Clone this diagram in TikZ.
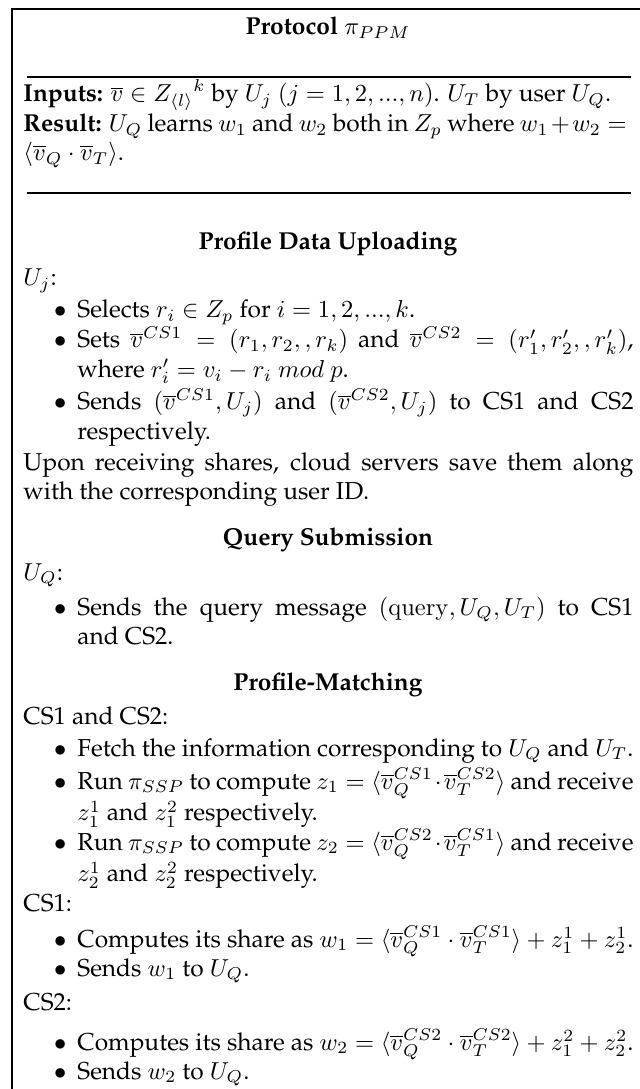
\documentclass[tikz,border=0pt]{standalone}
\usepackage[T1]{fontenc}
\renewcommand{\rmdefault}{ppl}

% a bulleted paragraph: bullet hangs in the left margin, later lines indented
\newcommand{\bitem}[1]{%
  \hangindent=22pt\hangafter=1\noindent
  \makebox[22pt][r]{$\bullet$\hspace{4.5pt}}#1\par}

\tikzset{
  body/.style={anchor=base west, inner sep=0pt, text width=249pt, align=justify,
    font=\fontsize{10}{12}\selectfont},
  heading/.style={anchor=base, inner sep=0pt, font=\fontsize{10}{12}\selectfont\bfseries},
  frame/.style={line width=0.5pt},
  bar/.style={line width=1pt}
}

\begin{document}
\begin{tikzpicture}[x=0.40816pt, y=-0.40816pt]
  \useasboundingbox (0,0) rectangle (639,1089);

  % outer frame (left and top edges)
  \coordinate (fb) at (12,1095);
  \coordinate (ft) at (12,9);
  \coordinate (fr) at (645,9);
  \draw[frame] (fb) -- (ft) -- (fr);

  % title
  \node[heading] (title) at (328,35) {Protocol \mdseries$\pi_{PPM}$};

  \coordinate (r1a) at (27,77);
  \coordinate (r1b) at (631,77);
  \draw[bar] (r1a) -- (r1b);

  % inputs and result
  \node[body] (inputs) at (23,102) {%
    \textbf{Inputs:} $\overline{v}\in {Z_{\langle l\rangle}}^k$ by $U_j$ $(j=1,2,...,n)$. $U_T$ by user $U_Q$.\\
    \textbf{Result:} $U_Q$ learns $w_1$ and $w_2$ both in $Z_p$ where $w_1+w_2={}$\linebreak
    $\langle\overline{v}_Q\cdot\overline{v}_T\rangle$.};

  \coordinate (r2a) at (27,193);
  \coordinate (r2b) at (631,193);
  \draw[bar] (r2a) -- (r2b);

  % profile data uploading
  \node[heading] (h1) at (328,250) {Profile Data Uploading};
  \node[body] (uj) at (23,286) {$U_j$:};
  \node[body] (sel) at (23,318) {\bitem{Selects $r_i\in Z_p$ for $i=1,2,...,k$.}};
  \node[body] (sets) at (23,348) {\bitem{Sets $\overline{v}^{CS1}=(r_1,r_2,,r_k)$ and $\overline{v}^{CS2}=(r'_1,r'_2,,r'_k)$,\linebreak
        where $r'_i=v_i-r_i~mod~p$.}};
  \node[body] (snd) at (23,410) {\bitem{Sends $(\overline{v}^{CS1},U_j)$ and $(\overline{v}^{CS2},U_j)$ to CS1 and CS2\linebreak
        respectively.}};
  \node[body] (upon) at (23,470) {Upon receiving shares, cloud servers save them along\linebreak
    with the corresponding user ID.};

  % query submission
  \node[heading] (h2) at (328,545) {Query Submission};
  \node[body] (uq) at (23,580) {$U_Q$:};
  \node[body] (qry) at (23,615) {\bitem{Sends the query message $(\mathrm{query},U_Q,U_T)$ to CS1\linebreak
        and CS2.}};

  % profile matching
  \node[heading] (h3) at (328,690) {Profile-Matching};
  \node[body] (both) at (23,724) {CS1 and CS2:};
  \node[body] (fetch) at (23,756) {\bitem{Fetch the information corresponding to $U_Q$ and $U_T$.}};
  \node[body] (run1) at (23,789) {\bitem{Run $\pi_{SSP}$ to compute $z_1=\langle\overline{v}_Q^{CS1}\cdot\overline{v}_T^{CS2}\rangle$ and receive\linebreak
        $z_1^1$ and $z_1^2$ respectively.}};
  \node[body] (run2) at (23,850) {\bitem{Run $\pi_{SSP}$ to compute $z_2=\langle\overline{v}_Q^{CS2}\cdot\overline{v}_T^{CS1}\rangle$ and receive\linebreak
        $z_2^1$ and $z_2^2$ respectively.}};

  \node[body] (cs1) at (23,911) {CS1:};
  \node[body] (w1) at (23,947) {\bitem{Computes its share as $w_1=\langle\overline{v}_Q^{CS1}\cdot\overline{v}_T^{CS1}\rangle+z_1^1+z_2^1$.}};
  \node[body] (s1) at (23,976) {\bitem{Sends $w_1$ to $U_Q$.}};

  \node[body] (cs2) at (23,1010) {CS2:};
  \node[body] (w2) at (23,1050) {\bitem{Computes its share as $w_2=\langle\overline{v}_Q^{CS2}\cdot\overline{v}_T^{CS2}\rangle+z_1^2+z_2^2$.}};
  \node[body] (s2) at (23,1079) {\bitem{Sends $w_2$ to $U_Q$.}};
\end{tikzpicture}
\end{document}
